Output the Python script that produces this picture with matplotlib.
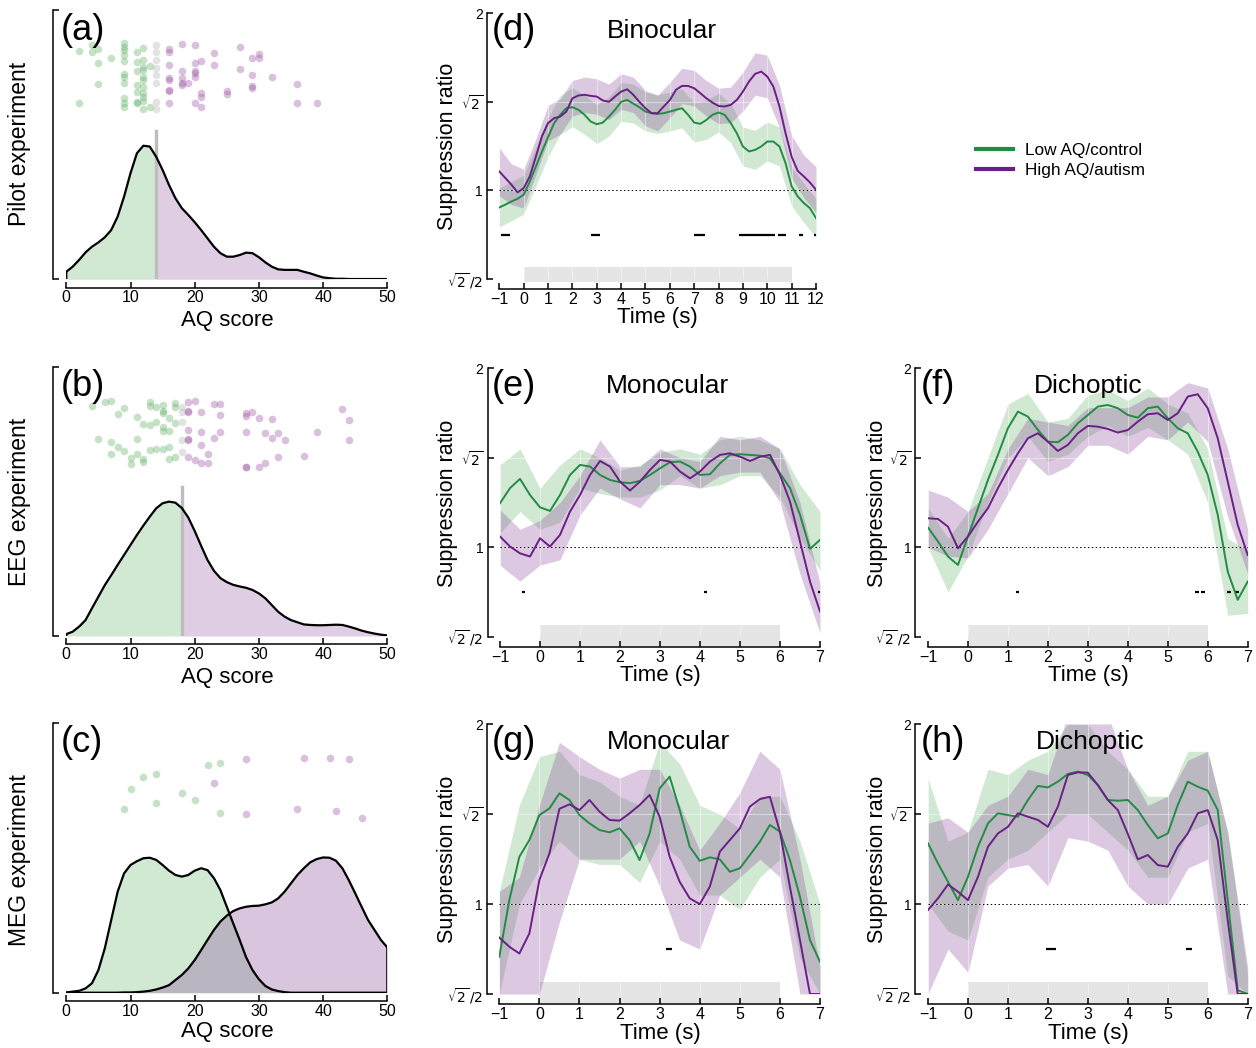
import matplotlib.pyplot as plt
import matplotlib.transforms as mtransforms
from matplotlib.lines import Line2D
from matplotlib.patches import Rectangle
import numpy as np

plt.rcParams['font.family'] = ['Liberation Sans', 'DejaVu Sans']

# colours
GREEN = '#238b45'
PURPLE = '#6a1f85'
GFILL = '#5aae61'
PFILL = '#8c4c9c'
GDOT = '#5aae61'
PDOT = '#994c9e'

# ---------------- AQ distributions (density in axis-height fraction) ----------------
aq = np.arange(0, 51)
dens_a = [0.028, 0.047, 0.072, 0.100, 0.121, 0.137, 0.156, 0.183, 0.233, 0.307,
          0.394, 0.468, 0.496, 0.493, 0.455, 0.406, 0.350, 0.301, 0.264, 0.239,
          0.212, 0.183, 0.152, 0.121, 0.097, 0.084, 0.084, 0.090, 0.099, 0.097,
          0.082, 0.063, 0.047, 0.037, 0.035, 0.035, 0.035, 0.028, 0.022, 0.014,
          0.007, 0.004, 0.002, 0.002, 0.001, 0.001, 0.001, 0.001, 0.001, 0.001, 0.001]
dens_b = [0.007, 0.016, 0.035, 0.059, 0.103, 0.146, 0.189, 0.226, 0.264, 0.301,
          0.338, 0.375, 0.410, 0.443, 0.474, 0.493, 0.499, 0.495, 0.475, 0.440,
          0.390, 0.335, 0.282, 0.242, 0.215, 0.200, 0.190, 0.184, 0.179, 0.171,
          0.158, 0.140, 0.115, 0.090, 0.072, 0.059, 0.051, 0.043, 0.041, 0.040,
          0.040, 0.041, 0.042, 0.041, 0.035, 0.028, 0.020, 0.014, 0.009, 0.005, 0.002]
dens_c_low = [0.001, 0.004, 0.007, 0.016, 0.035, 0.084, 0.165, 0.270, 0.375, 0.443,
              0.474, 0.488, 0.499, 0.501, 0.493, 0.474, 0.453, 0.437, 0.431, 0.437,
              0.453, 0.462, 0.455, 0.425, 0.381, 0.319, 0.257, 0.196, 0.132, 0.084,
              0.050, 0.025, 0.012, 0.006, 0.002, 0, 0, 0, 0, 0,
              0, 0, 0, 0, 0, 0, 0, 0, 0, 0, 0]
dens_c_high = [0, 0, 0, 0, 0, 0, 0, 0, 0, 0.001,
               0.001, 0.002, 0.004, 0.007, 0.012, 0.019, 0.028, 0.047, 0.066, 0.090,
               0.121, 0.158, 0.196, 0.233, 0.264, 0.286, 0.303, 0.313, 0.319, 0.322,
               0.323, 0.328, 0.335, 0.350, 0.375, 0.406, 0.437, 0.462, 0.484, 0.496,
               0.502, 0.501, 0.490, 0.462, 0.418, 0.369, 0.319, 0.270, 0.233, 0.196, 0.168]
cut_a = 14
cut_b = 18

# individual participants: AQ score and vertical jitter
a_low_x = [2, 2, 4, 4, 5, 5, 5, 7, 9, 9, 9, 9, 9, 9, 9, 9, 9, 9, 9,
           11, 11, 11, 11, 11, 11, 11, 12, 12, 12, 12, 12, 12, 12, 12, 12, 12, 12, 13, 13]
a_low_y = [0.849, 0.656, 0.870, 0.845, 0.854, 0.804, 0.724, 0.822,
           0.876, 0.864, 0.851, 0.833, 0.811, 0.762, 0.752, 0.728, 0.672, 0.656, 0.641,
           0.845, 0.806, 0.774, 0.722, 0.697, 0.660, 0.653,
           0.860, 0.814, 0.790, 0.777, 0.752, 0.740, 0.713, 0.693, 0.678, 0.663, 0.631,
           0.792, 0.641]
a_mid_x = [14, 14, 14, 14, 14, 14, 14, 14]
a_mid_y = [0.870, 0.845, 0.814, 0.783, 0.759, 0.728, 0.660, 0.631]
a_high_x = [16, 16, 16, 16, 16, 16, 16, 16, 18, 18, 18, 18, 18, 19,
            20, 20, 20, 20, 20, 20, 21, 21, 21, 21, 23, 23, 25, 25, 27, 27,
            29, 29, 29, 29, 30, 30, 32, 36, 36, 39]
a_high_y = [0.854, 0.845, 0.796, 0.746, 0.740, 0.703, 0.700, 0.656,
            0.873, 0.774, 0.746, 0.728, 0.722, 0.730,
            0.870, 0.804, 0.774, 0.765, 0.750, 0.656, 0.811, 0.691, 0.678, 0.641,
            0.842, 0.796, 0.700, 0.688, 0.864, 0.781,
            0.823, 0.759, 0.718, 0.709, 0.837, 0.821, 0.750, 0.724, 0.656, 0.656]

b_low_x = [4, 5, 6, 7, 7, 7, 8, 8, 9, 9, 10, 10, 11, 11, 11, 12, 12, 12,
           13, 13, 13, 13, 14, 14, 14, 15, 15, 15, 15, 15, 15, 16, 16, 16, 16, 17, 17, 17, 17]
b_low_y = [0.855, 0.730, 0.868, 0.676, 0.873, 0.722, 0.823, 0.700, 0.848, 0.687,
           0.660, 0.637, 0.812, 0.730, 0.674, 0.787, 0.657, 0.647,
           0.870, 0.855, 0.783, 0.691, 0.851, 0.796, 0.693,
           0.858, 0.837, 0.829, 0.775, 0.762, 0.693, 0.762, 0.808, 0.700, 0.657,
           0.864, 0.851, 0.790, 0.663]
b_mid_x = [18, 18, 18, 18, 18]
b_mid_y = [0.851, 0.833, 0.796, 0.728, 0.682]
b_high_x = [19, 19, 19, 19, 19, 19, 19, 20, 20, 21, 21, 21, 21, 22, 22, 23, 23,
            24, 24, 24, 28, 28, 28, 28, 28, 29, 30, 30, 31, 31, 32, 32, 33, 33,
            34, 37, 39, 43, 44, 44]
b_high_y = [0.870, 0.837, 0.833, 0.765, 0.731, 0.728, 0.663, 0.874, 0.653,
            0.833, 0.756, 0.709, 0.644, 0.676, 0.641, 0.860, 0.736,
            0.860, 0.821, 0.756, 0.827, 0.818, 0.756, 0.629, 0.626, 0.830,
            0.808, 0.626, 0.752, 0.644, 0.806, 0.736, 0.752, 0.666,
            0.728, 0.668, 0.756, 0.843, 0.802, 0.728]

c_low_x = [9, 10, 12, 14, 14, 18, 20, 22, 24, 24]
c_low_y = [0.681, 0.755, 0.800, 0.811, 0.703, 0.740, 0.715, 0.845, 0.854, 0.666]
c_high_x = [23, 28, 28, 36, 37, 41, 42, 44, 46]
c_high_y = [0.777, 0.868, 0.662, 0.681, 0.870, 0.870, 0.675, 0.868, 0.647]

# ---------------- suppression time courses (log2 ratio) ----------------
td = np.arange(-1, 12.01, 0.25)
tdb = np.arange(-1, 12.01, 0.5)
d_green = [-0.096, -0.08, -0.062, -0.047, -0.024, 0.05, 0.135, 0.22, 0.30, 0.38, 0.427, 0.464, 0.47,
           0.455, 0.427, 0.389, 0.374, 0.383, 0.417, 0.455, 0.50, 0.511, 0.49, 0.47, 0.445, 0.436,
           0.432, 0.436, 0.445, 0.455, 0.464, 0.427, 0.383, 0.376, 0.398, 0.427, 0.44, 0.427, 0.38,
           0.323, 0.248, 0.22, 0.229, 0.248, 0.276, 0.276, 0.248, 0.154, 0.023, -0.034, -0.071, -0.10, -0.156]
d_purple = [0.107, 0.07, 0.032, -0.011, 0.013, 0.079, 0.19, 0.305, 0.38, 0.408, 0.417, 0.445, 0.52,
            0.536, 0.54, 0.534, 0.53, 0.508, 0.50, 0.53, 0.558, 0.571, 0.54, 0.50, 0.464, 0.436,
            0.436, 0.474, 0.51, 0.568, 0.59, 0.59, 0.577, 0.549, 0.52, 0.496, 0.477, 0.474, 0.483,
            0.511, 0.558, 0.615, 0.658, 0.671, 0.643, 0.586, 0.474, 0.323, 0.19, 0.11, 0.079, 0.045, 0.004]
d_green_lo = [-0.206, -0.17, -0.134, 0.025, 0.19, 0.317, 0.36, 0.317, 0.264, 0.307, 0.39, 0.38, 0.335,
              0.322, 0.335, 0.354, 0.273, 0.288, 0.33, 0.27, 0.138, 0.119, 0.166, 0.138, -0.087, -0.181, -0.266]
d_green_hi = [0.014, 0.05, 0.086, 0.245, 0.41, 0.537, 0.58, 0.537, 0.484, 0.527, 0.61, 0.60, 0.555,
              0.542, 0.555, 0.574, 0.493, 0.508, 0.55, 0.49, 0.358, 0.339, 0.386, 0.358, 0.133, 0.039, -0.046]
d_purple_lo = [-0.03, -0.08, -0.10, 0.09, 0.28, 0.317, 0.42, 0.44, 0.43, 0.40, 0.458, 0.44, 0.364,
               0.336, 0.41, 0.49, 0.477, 0.42, 0.377, 0.383, 0.448, 0.538, 0.523, 0.354, 0.07, -0.041, -0.126]
d_purple_hi = [0.24, 0.15, 0.12, 0.29, 0.48, 0.517, 0.62, 0.64, 0.63, 0.60, 0.658, 0.64, 0.564,
               0.536, 0.61, 0.69, 0.677, 0.62, 0.577, 0.583, 0.668, 0.778, 0.763, 0.594, 0.31, 0.199, 0.134]
d_sig = [(-0.95, -0.55), (2.75, 3.15), (7.0, 7.45), (8.85, 10.3), (10.45, 10.75), (11.3, 11.45), (11.93, 12.0)]

t8 = np.arange(-1, 7.01, 0.25)
t8b = np.arange(-1, 7.01, 0.5)

e_green = [0.246, 0.33, 0.382, 0.292, 0.223, 0.203, 0.292, 0.404, 0.46, 0.451, 0.404, 0.376, 0.363,
           0.358, 0.371, 0.404, 0.441, 0.475, 0.479, 0.451, 0.404, 0.408, 0.469, 0.516, 0.52, 0.516,
           0.512, 0.497, 0.413, 0.33, 0.181, -0.009, 0.041]
e_purple = [0.06, 0.004, -0.034, -0.052, 0.05, 0.004, 0.069, 0.199, 0.292, 0.404, 0.482, 0.451, 0.367,
            0.317, 0.367, 0.432, 0.488, 0.479, 0.423, 0.385, 0.423, 0.479, 0.516, 0.525, 0.506, 0.482,
            0.506, 0.516, 0.404, 0.255, 0.032, -0.192, -0.359]
e_green_lo = [0.08, 0.20, 0.10, 0.14, 0.33, 0.30, 0.28, 0.28, 0.32, 0.40, 0.33, 0.35, 0.40, 0.40, 0.28, 0.05, -0.13]
e_green_hi = [0.46, 0.55, 0.33, 0.46, 0.55, 0.50, 0.43, 0.46, 0.53, 0.55, 0.52, 0.60, 0.62, 0.60, 0.55, 0.35, 0.20]
e_purple_lo = [-0.10, -0.19, -0.10, -0.07, 0.18, 0.33, 0.27, 0.22, 0.35, 0.35, 0.33, 0.40, 0.42, 0.42, 0.25, -0.15, -0.48]
e_purple_hi = [0.21, 0.10, 0.15, 0.25, 0.40, 0.60, 0.45, 0.45, 0.55, 0.50, 0.48, 0.62, 0.60, 0.62, 0.55, 0.25, -0.20]
e_sig = [(-0.44, -0.37), (4.1, 4.17), (6.94, 7.0)]

f_green = [0.11, 0.032, -0.052, -0.099, 0.06, 0.218, 0.376, 0.516, 0.665, 0.758, 0.73, 0.656, 0.59,
           0.587, 0.628, 0.693, 0.739, 0.786, 0.795, 0.777, 0.739, 0.724, 0.777, 0.786, 0.721, 0.665,
           0.637, 0.534, 0.404, 0.181, -0.136, -0.294, -0.192]
f_purple = [0.162, 0.158, 0.115, -0.006, 0.06, 0.143, 0.218, 0.33, 0.432, 0.525, 0.609, 0.637, 0.59,
            0.538, 0.572, 0.637, 0.678, 0.674, 0.661, 0.641, 0.655, 0.702, 0.743, 0.749, 0.711, 0.749,
            0.842, 0.855, 0.777, 0.609, 0.367, 0.125, -0.043]
f_green_lo = [0.00, -0.25, -0.05, 0.25, 0.50, 0.62, 0.48, 0.52, 0.62, 0.68, 0.62, 0.67, 0.60, 0.52, 0.25, -0.38, -0.37]
f_green_hi = [0.22, 0.05, 0.20, 0.50, 0.80, 0.86, 0.70, 0.72, 0.85, 0.88, 0.82, 0.89, 0.80, 0.75, 0.55, 0.05, -0.02]
f_purple_lo = [0.00, -0.05, -0.06, 0.10, 0.30, 0.50, 0.40, 0.45, 0.57, 0.57, 0.52, 0.62, 0.60, 0.70, 0.59, 0.17, -0.15]
f_purple_hi = [0.32, 0.28, 0.20, 0.30, 0.55, 0.72, 0.70, 0.68, 0.78, 0.78, 0.78, 0.84, 0.84, 0.92, 0.89, 0.55, 0.10]
f_sig = [(1.2, 1.27), (5.67, 5.78), (5.83, 5.93), (6.48, 6.58), (6.68, 6.78)]

g_green = [-0.293, 0.022, 0.263, 0.356, 0.495, 0.532, 0.616, 0.579, 0.495, 0.449, 0.412, 0.399, 0.421,
           0.356, 0.245, 0.393, 0.644, 0.709, 0.523, 0.319, 0.241, 0.26, 0.249, 0.18, 0.199, 0.273,
           0.347, 0.44, 0.403, 0.245, 0.041, -0.2, -0.321]
g_purple = [-0.186, -0.237, -0.275, -0.163, 0.134, 0.282, 0.53, 0.555, 0.523, 0.579, 0.514, 0.468, 0.464,
            0.505, 0.551, 0.607, 0.486, 0.263, 0.124, 0.032, 0.0, 0.096, 0.291, 0.356, 0.421, 0.542,
            0.584, 0.597, 0.403, 0.096, -0.2, -0.5, -0.5]
g_green_lo = [-0.5, 0.0, 0.2, 0.35, 0.25, 0.22, 0.22, 0.12, 0.35, 0.25, 0.05, 0.05, -0.03, 0.15, 0.25, -0.3, -0.5]
g_green_hi = [0.07, 0.55, 0.82, 0.85, 0.72, 0.68, 0.60, 0.55, 0.90, 0.78, 0.55, 0.50, 0.42, 0.60, 0.60, 0.35, 0.0]
g_purple_lo = [-0.5, -0.5, -0.5, -0.1, 0.25, 0.25, 0.25, 0.35, 0.1, -0.2, -0.25, 0.05, 0.15, 0.25, 0.15, -0.5, -0.5]
g_purple_hi = [0.07, 0.15, 0.55, 0.90, 0.82, 0.75, 0.70, 0.75, 0.75, 0.55, 0.30, 0.45, 0.62, 0.85, 0.75, 0.25, -0.35]
g_sig = [(3.15, 3.3)]

h_green = [0.338, 0.226, 0.124, 0.022, 0.152, 0.319, 0.449, 0.505, 0.495, 0.486, 0.579, 0.657, 0.649,
           0.681, 0.724, 0.737, 0.718, 0.662, 0.579, 0.575, 0.579, 0.523, 0.44, 0.366, 0.393, 0.551,
           0.681, 0.653, 0.631, 0.523, 0.022, -0.479, -0.5]
h_purple = [-0.033, 0.032, 0.109, 0.069, 0.022, 0.152, 0.319, 0.393, 0.43, 0.505, 0.486, 0.468, 0.43,
            0.542, 0.718, 0.733, 0.731, 0.662, 0.579, 0.523, 0.39, 0.249, 0.273, 0.217, 0.208, 0.319,
            0.393, 0.505, 0.523, 0.356, -0.089, -0.5, -0.5]
h_green_lo = [0.0, -0.15, -0.20, 0.15, 0.25, 0.30, 0.40, 0.50, 0.50, 0.40, 0.30, 0.15, 0.15, 0.40, 0.45, -0.40, -0.5]
h_green_hi = [0.70, 0.35, 0.40, 0.75, 0.72, 0.80, 0.85, 1.0, 1.0, 0.85, 0.75, 0.60, 0.60, 0.85, 0.85, 0.40, -0.40]
h_purple_lo = [-0.5, -0.25, -0.38, 0.10, 0.20, 0.22, 0.10, 0.37, 0.35, 0.30, 0.10, 0.0, 0.0, 0.20, 0.25, -0.5, -0.5]
h_purple_hi = [0.45, 0.48, 0.40, 0.55, 0.60, 0.75, 0.72, 1.05, 1.1, 1.05, 0.75, 0.55, 0.60, 0.80, 0.85, 0.40, -0.35]
h_sig = [(1.95, 2.2), (5.45, 5.6)]

sig_level = -0.25
y_ticks = [-0.5, 0, 0.5, 1]
y_ticklabels = [r'$\sqrt{2}\,/2$', '1', r'$\sqrt{2}$', '2']

W, H = 1256, 1048
fig = plt.figure(figsize=(W / 100, H / 100), dpi=100)


def add_ax(left, top, right, bottom):
    return fig.add_axes([left / W, 1 - bottom / H, (right - left) / W, (bottom - top) / H])


def dist_style(ax):
    ax.set_xlim(0, 50)
    ax.set_ylim(0, 1)
    for s in ['top', 'right']:
        ax.spines[s].set_visible(False)
    ax.spines['left'].set_position(('outward', 9.5))
    ax.spines['bottom'].set_position(('outward', 6))
    ax.set_yticks([0, 1])
    ax.set_yticklabels([])
    ax.set_xticks([0, 10, 20, 30, 40, 50])
    ax.tick_params(direction='in', length=4, width=1.1, labelsize=11.5, pad=2)
    for s in ['left', 'bottom']:
        ax.spines[s].set_linewidth(1.1)


def dots(ax, x, y, col):
    ax.scatter(x, y, s=30, color=col, alpha=0.35, lw=0, zorder=3)


def split_density(ax, dens, cut, cut_top):
    dens = np.array(dens)
    ax.fill_between(aq, 0, dens, where=aq <= cut, color=GFILL, alpha=0.28, lw=0)
    ax.fill_between(aq, 0, dens, where=aq >= cut, color=PFILL, alpha=0.28, lw=0)
    ax.plot(np.r_[aq[0], aq], np.r_[0, dens], color='k', lw=1.6, zorder=4)
    ax.axvline(cut, ymin=0, ymax=cut_top, color='#bdbdbd', lw=2.4, zorder=3)


# (a)
ax = add_ax(66.3, 10, 387.3, 279.3)
dist_style(ax)
split_density(ax, dens_a, cut_a, 0.551)
dots(ax, a_low_x, a_low_y, GDOT)
dots(ax, a_mid_x, a_mid_y, '#b0b0b0')
dots(ax, a_high_x, a_high_y, PDOT)

# (b)
ax = add_ax(66.3, 366.7, 387.3, 636)
dist_style(ax)
split_density(ax, dens_b, cut_b, 0.554)
dots(ax, b_low_x, b_low_y, GDOT)
dots(ax, b_mid_x, b_mid_y, '#b0b0b0')
dots(ax, b_high_x, b_high_y, PDOT)

# (c)
ax = add_ax(66.3, 723.3, 387.3, 992.7)
dist_style(ax)
ax.fill_between(aq, 0, dens_c_low, color=GFILL, alpha=0.28, lw=0)
ax.fill_between(aq, 0, dens_c_high, color=PFILL, alpha=0.32, lw=0)
ax.plot(aq, dens_c_low, color='k', lw=1.6, zorder=4)
ax.plot(np.r_[aq, aq[-1]], np.r_[dens_c_high, 0], color='k', lw=1.6, zorder=4)
dots(ax, c_low_x, c_low_y, GDOT)
dots(ax, c_high_x, c_high_y, PDOT)

for xc, yc, txt in [(227, 320, 'AQ score'), (227, 677, 'AQ score'), (227, 1032, 'AQ score')]:
    fig.text(xc / W, 1 - yc / H, txt, ha='center', va='center', fontsize=16)
for yc, txt in [(144, 'Pilot experiment'), (502, 'EEG experiment'), (860, 'MEG experiment')]:
    fig.text(20 / W, 1 - yc / H, txt, ha='center', va='center', rotation=90, fontsize=16.5)


def time_panel(box, t, g, p, tb, glo, ghi, plo, phi, sig, stim_end, xmax, title, title_x, bar_lo):
    ax = add_ax(*box)
    ax.set_xlim(-1, xmax)
    ax.set_ylim(-0.5, 1.0)
    ax.fill_between(tb, glo, ghi, color=GFILL, alpha=0.28, lw=0, zorder=1)
    ax.fill_between(tb, plo, phi, color=PFILL, alpha=0.3, lw=0, zorder=1.1)
    ax.grid(True, color='white', lw=0.8, alpha=0.45)
    ax.set_axisbelow(False)
    ax.axhline(0, color='k', ls=(0, (1.5, 2.5)), lw=0.7, zorder=2.6)
    for a, b in sig:
        ax.plot([a, b], [sig_level, sig_level], color='k', lw=1.6, solid_capstyle='butt', zorder=3)
    ax.plot(t, g, color=GREEN, lw=1.4, zorder=3.2, solid_joinstyle='round')
    ax.plot(t, p, color=PURPLE, lw=1.4, zorder=3.3, solid_joinstyle='round')
    trans = mtransforms.blended_transform_factory(ax.transData, ax.transAxes)
    ax.add_patch(Rectangle((0, bar_lo), stim_end, 0.045 - bar_lo, transform=trans,
                           facecolor='#e5e5e5', edgecolor='none', clip_on=False, zorder=0))
    for s in ['top', 'right']:
        ax.spines[s].set_visible(False)
    ax.spines['left'].set_position(('outward', 9))
    ax.spines['bottom'].set_position(('outward', 7.5))
    for s in ['left', 'bottom']:
        ax.spines[s].set_linewidth(1.1)
    xt = list(range(-1, xmax + 1))
    ax.set_xticks(xt)
    ax.set_xticklabels(['\u22121'] + [str(v) for v in xt[1:]])
    ax.set_yticks(y_ticks)
    ax.set_yticklabels(y_ticklabels)
    ax.tick_params(direction='in', length=4, width=1.1, labelsize=11.5, pad=2)
    ax.tick_params(axis='y', labelsize=10, pad=3)
    ax.text(title_x, 0.935, title, transform=ax.transAxes, ha='center', va='center', fontsize=19)
    return ax


time_panel((499.3, 13.3, 816, 279), td, d_green, d_purple, tdb, d_green_lo, d_green_hi,
           d_purple_lo, d_purple_hi, d_sig, 11, 12, 'Binocular', 0.515, -0.012)
time_panel((500, 368.3, 820, 636.7), t8, e_green, e_purple, t8b, e_green_lo, e_green_hi,
           e_purple_lo, e_purple_hi, e_sig, 6, 7, 'Monocular', 0.525, -0.035)
time_panel((928, 368.3, 1247.7, 636.7), t8, f_green, f_purple, t8b, f_green_lo, f_green_hi,
           f_purple_lo, f_purple_hi, f_sig, 6, 7, 'Dichoptic', 0.5, -0.035)
time_panel((499.3, 724.3, 820, 994), t8, g_green, g_purple, t8b, g_green_lo, g_green_hi,
           g_purple_lo, g_purple_hi, g_sig, 6, 7, 'Monocular', 0.528, -0.035)
time_panel((928, 724.3, 1247.7, 994), t8, h_green, h_purple, t8b, h_green_lo, h_green_hi,
           h_purple_lo, h_purple_hi, h_sig, 6, 7, 'Dichoptic', 0.507, -0.035)

for xc, yc in [(657, 318), (660, 676), (1088, 676), (660, 1033), (1088, 1033)]:
    fig.text(xc / W, 1 - yc / H, 'Time (s)', ha='center', va='center', fontsize=16)
for xc, yc in [(448, 146), (448, 503), (877, 503), (448, 859), (877, 859)]:
    fig.text(xc / W, 1 - yc / H, 'Suppression ratio', ha='center', va='center', rotation=90, fontsize=15.5)

for xc, yc, txt in [(61, 30, '(a)'), (61, 387, '(b)'), (61, 742, '(c)'),
                    (492, 31, '(d)'), (492, 387, '(e)'), (921, 387, '(f)'),
                    (492, 743, '(g)'), (921, 743, '(h)')]:
    fig.text(xc / W, 1 - yc / H, txt, ha='left', va='center', fontsize=26)

handles = [Line2D([], [], color=GREEN, lw=3), Line2D([], [], color=PURPLE, lw=3)]
fig.legend(handles, ['Low AQ/control', 'High AQ/autism'], loc='upper left',
           bbox_to_anchor=(976 / W, 1 - 143 / H), frameon=False, fontsize=12.4,
           handlelength=2.15, handletextpad=0.7, labelspacing=0.3, borderpad=0, borderaxespad=0)

fig.savefig('out.png', dpi=100)
